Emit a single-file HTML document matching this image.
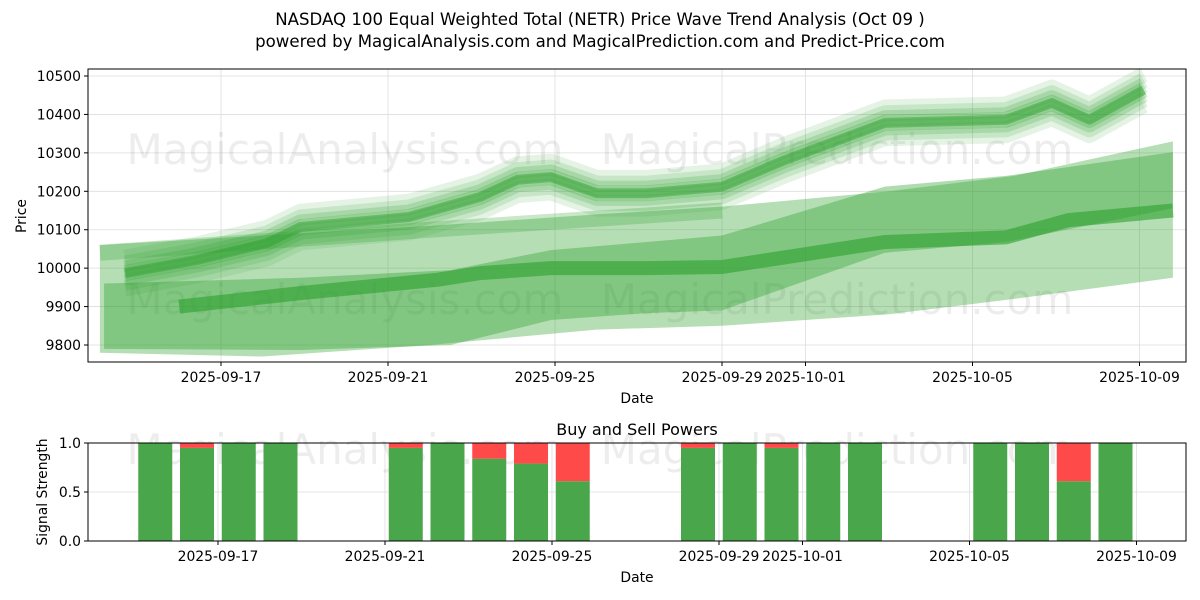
<!DOCTYPE html>
<html><head><meta charset="utf-8"><style>
html,body{margin:0;padding:0;background:#fff;}
svg{display:block;font-family:"DejaVu Sans","Liberation Sans",sans-serif;}
</style></head><body>
<svg id="c" width="1200" height="600" viewBox="0 0 1200 600">
<rect width="1200" height="600" fill="#fff"/>
<text x="600" y="25" text-anchor="middle" font-size="16.6" fill="#000">NASDAQ 100 Equal Weighted Total (NETR) Price Wave Trend Analysis (Oct 09 )</text>
<text x="600" y="47" text-anchor="middle" font-size="16.6" fill="#000">powered by MagicalAnalysis.com and MagicalPrediction.com and Predict-Price.com</text>
<g id="top"></g>
<g id="bot"></g>
</svg>
<script>
// ---- data (day offsets from 2025-09-15) ----
const xTickLabels = ["2025-09-17","2025-09-21","2025-09-25","2025-09-29","2025-10-01","2025-10-05","2025-10-09"];
const xTickDays = [2,6,10,14,16,20,24];
const yTicks = [9800,9900,10000,10100,10200,10300,10400,10500];
const sTicks = [0,0.5,1];
const wideDays = [-0.9,3,7,11,14,18,21,24.8];
const wideTop = [10060,10085,10110,10140,10160,10200,10240,10330];
const wideBot = [9780,9770,9800,9840,9850,9880,9920,9975];
const midDays = [-0.8,3.9,7.5,9.9,12.2,14,17.9,20.8,24.8];
const midTop = [9960,9975,9995,10047,10068,10085,10212,10240,10302];
const midBot = [9790,9787,9800,9865,9883,9890,10040,10068,10156];
const darkDays = [1,3.9,7.2,8.2,9.9,12.2,14,17.9,20.8,22.3,24.8];
const darkVals = [9900,9935,9970,9987,10000,10000,10003,10068,10080,10125,10150];
const waveDays = [-0.3,1.4,3.1,3.9,6.5,8.2,9.1,9.9,11,12.2,14,15.5,17.9,20.8,21.9,22.8,24.1];
const waveVals = [9987,10021,10065,10107,10133,10185,10230,10237,10195,10195,10212,10281,10378,10386,10430,10386,10464];
const waveOffsets = [-40,-25,-12,0,12,25,40];
const straightDays = [-0.9,7,14];
const straightVals = [10040,10100,10150];
const barDays = [1,2,3,4,7,8,9,10,11,14,15,16,17,18,21,22,23,24];
const buyVals = [1,0.95,1,1,0.95,1,0.84,0.79,0.61,0.95,1,0.95,1,1,1,1,0.61,1];

const NS="http://www.w3.org/2000/svg";
function mk(tag,attrs,parent){const e=document.createElementNS(NS,tag);for(const k in attrs)e.setAttribute(k,attrs[k]);parent.appendChild(e);return e;}
const T=document.getElementById('top'), B=document.getElementById('bot');
const L=88,R=1186,TT=69,TB=362,BT=443,BB=541;
const FS=13.9;
const xT=d=>137.5+41.75*d, yT=p=>76+(10500-p)*0.3843;
const xB=d=>134.5+41.75*d, yB=v=>BB-(BB-BT)*v;

yTicks.forEach(v=>{const g=mk('line',{x1:L,x2:R,y1:yT(v),y2:yT(v),stroke:'#ddd','stroke-width':0.8},T);

});
xTickDays.forEach(d=>{const g=mk('line',{x1:xT(d),x2:xT(d),y1:TT,y2:TB,stroke:'#ddd','stroke-width':0.8},T);

});
[[345,150,'MagicalAnalysis.com'],[837,150,'MagicalPrediction.com'],[345,300,'MagicalAnalysis.com'],[837,300,'MagicalPrediction.com']].forEach(w=>{
const t=mk('text',{x:w[0],y:w[1]+14,'text-anchor':'middle','font-size':42,fill:'#000','fill-opacity':0.07},T);t.textContent=w[2];

});

function band(days,top,bot,op,name){let pts=days.map((d,i)=>xT(d)+','+yT(top[i]));
for(let i=days.length-1;i>=0;i--)pts.push(xT(days[i])+','+yT(bot[i]));
const p=mk('polygon',{points:pts.join(' '),fill:'#2ca02c','fill-opacity':op},T);

}
function line(days,vals,off,w,op,name){const pts=days.map((d,i)=>xT(d)+','+yT(vals[i]+off)).join(' ');
const p=mk('polyline',{points:pts,fill:'none',stroke:'#2ca02c','stroke-width':w,'stroke-opacity':op,'stroke-linejoin':'round'},T);

}
band(wideDays,wideTop,wideBot,0.35,'wide-band');
band(midDays,midTop,midBot,0.38,'mid-band');
line(darkDays,darkVals,0,14,0.6,'dark-trend-line');
line(straightDays,straightVals,0,16,0.25,'straight-band');
waveOffsets.forEach((o,i)=>line(waveDays,waveVals,o,16,0.12+0.04*(3-Math.abs(i-3)),'wave-line'));
line(waveDays,waveVals,0,10,0.45,'wave-center-line');

const f=mk('rect',{x:L,y:TT,width:R-L,height:TB-TT,fill:'none',stroke:'#000','stroke-width':1},T);


yTicks.forEach(v=>{mk('line',{x1:L-4,x2:L,y1:yT(v),y2:yT(v),stroke:'#000'},T);
const t=mk('text',{x:L-7,y:yT(v)+5,'text-anchor':'end','font-size':FS},T);t.textContent=v;

});
xTickDays.forEach((d,i)=>{mk('line',{x1:xT(d),x2:xT(d),y1:TB,y2:TB+4,stroke:'#000'},T);
const t=mk('text',{x:xT(d),y:TB+20,'text-anchor':'middle','font-size':FS},T);t.textContent=xTickLabels[i];

});
let t=mk('text',{x:637,y:403,'text-anchor':'middle','font-size':FS},T);t.textContent='Date';


t=mk('text',{x:26,y:216,'text-anchor':'middle','font-size':FS,transform:'rotate(-90 26 216)'},T);t.textContent='Price';



sTicks.forEach(v=>{const g=mk('line',{x1:L,x2:R,y1:yB(v),y2:yB(v),stroke:'#ddd','stroke-width':0.8},B);

});
xTickDays.forEach(d=>{const g=mk('line',{x1:xB(d),x2:xB(d),y1:BT,y2:BB,stroke:'#ddd','stroke-width':0.8},B);

});
[[345,'MagicalAnalysis.com'],[837,'MagicalPrediction.com']].forEach(w=>{
const tt=mk('text',{x:w[0],y:464,'text-anchor':'middle','font-size':42,fill:'#000','fill-opacity':0.07},B);tt.textContent=w[1];

});
barDays.forEach((d,i)=>{const cx=xB(d)-21,w=34;
const g=mk('rect',{x:cx-w/2,y:yB(buyVals[i]),width:w,height:yB(0)-yB(buyVals[i]),fill:'#4aa64a'},B);


const r=mk('rect',{x:cx-w/2,y:yB(1),width:w,height:yB(buyVals[i])-yB(1),fill:'#ff4a4a'},B);

});
const f2=mk('rect',{x:L,y:BT,width:R-L,height:BB-BT,fill:'none',stroke:'#000','stroke-width':1},B);


sTicks.forEach(v=>{mk('line',{x1:L-4,x2:L,y1:yB(v),y2:yB(v),stroke:'#000'},B);
const tt=mk('text',{x:L-7,y:yB(v)+5,'text-anchor':'end','font-size':FS},B);tt.textContent=v.toFixed(1);

});
xTickDays.forEach((d,i)=>{mk('line',{x1:xB(d),x2:xB(d),y1:BB,y2:BB+4,stroke:'#000'},B);
const tt=mk('text',{x:xB(d),y:BB+20,'text-anchor':'middle','font-size':FS},B);tt.textContent=xTickLabels[i];

});
t=mk('text',{x:637,y:435,'text-anchor':'middle','font-size':16},B);t.textContent='Buy and Sell Powers';


t=mk('text',{x:637,y:582,'text-anchor':'middle','font-size':FS},B);t.textContent='Date';


t=mk('text',{x:47,y:492,'text-anchor':'middle','font-size':FS,transform:'rotate(-90 47 492)'},B);t.textContent='Signal Strength';


</script>
</body></html>
